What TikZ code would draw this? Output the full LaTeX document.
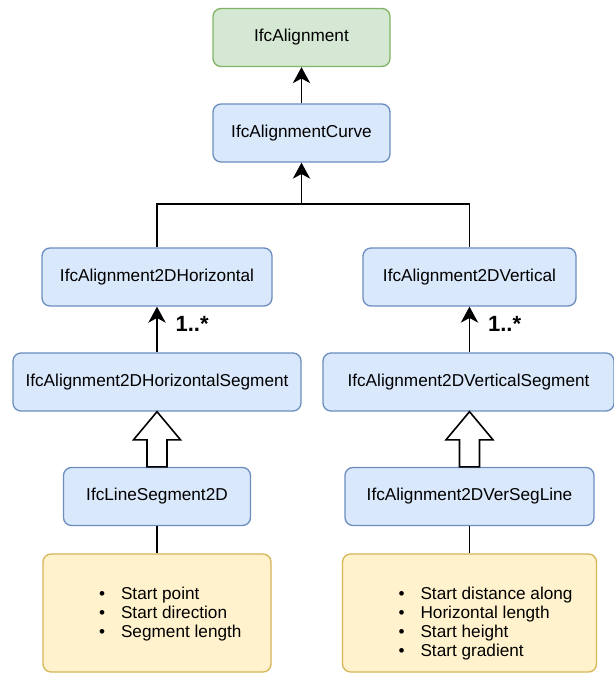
\documentclass[tikz,border=0pt]{standalone}
\usepackage{fontspec}
\setmainfont{Liberation Sans}
\usetikzlibrary{calc,arrows.meta}
\definecolor{blueFill}{HTML}{DAE8FC}
\definecolor{blueLine}{HTML}{6C8EBF}
\definecolor{greenFill}{HTML}{D5E8D4}
\definecolor{greenLine}{HTML}{82B366}
\definecolor{noteFill}{HTML}{FFF2CC}
\definecolor{noteLine}{HTML}{D6B656}
\def\blockarrow(#1)(#2){\draw[line width=1.2pt, fill=white] ($(#1)+(-10,0)$) -- ($(#1)+(-10,27)$) -- ($(#1)+(-23.5,27)$) -- (#2) -- ($(#1)+(23.5,27)$) -- ($(#1)+(10,27)$) -- ($(#1)+(10,0)$) -- cycle;}
\def\notelist#1#2{\parbox[c][88.5pt][t]{#1}{\vspace*{24.5pt}\hspace*{42pt}\begin{tabular}[t]{@{}l@{\hspace{12pt}}l@{}}#2\end{tabular}}}

\begin{document}
\begin{tikzpicture}[x=0.75pt, y=0.75pt,
		font=\fontsize{12.9}{14.25}\selectfont,
		cls/.style={draw=blueLine, fill=blueFill, rounded corners=6pt, line width=1pt, inner sep=0pt, minimum height=43.5pt},
		root/.style={cls, draw=greenLine, fill=greenFill},
		note/.style={cls, draw=noteLine, fill=noteFill, minimum height=88.5pt},
		link/.style={line width=1.2pt},
		arrow/.style={link, -{Stealth[length=12pt, width=13pt, inset=3.5pt]}},
		mult/.style={midway, right=10pt, yshift=4pt, font=\fontsize{16.5}{18}\selectfont\bfseries}]
		%%%%% START %%%%%
		
		\useasboundingbox (0, 0) rectangle (614, 675);
		
		\node[root, minimum width=132.75pt] (ifcal) at (301.5, 637.5) {IfcAlignment};
		\node[cls, minimum width=132.75pt] (curve) at (301.5, 542) {IfcAlignmentCurve};
		
		\node[cls, minimum width=172.5pt] (horiz) at (157, 398) {IfcAlignment2DHorizontal};
		\node[cls, minimum width=159.75pt] (vert) at (469.5, 398) {IfcAlignment2DVertical};
		
		\node[cls, minimum width=216pt] (hseg) at (157, 293) {IfcAlignment2DHorizontalSegment};
		\node[cls, minimum width=218.25pt] (vseg) at (468.5, 293) {IfcAlignment2DVerticalSegment};
		
		\node[cls, minimum width=140.25pt] (line2d) at (157, 178.5) {IfcLineSegment2D};
		\node[cls, minimum width=186.75pt] (verseg) at (469.5, 178.5) {IfcAlignment2DVerSegLine};
		
		\node[note, minimum width=171pt] (hnote) at (157, 62) {\notelist{171pt}{\textbullet & Start point\\ \textbullet & Start direction\\ \textbullet & Segment length}};
		\node[note, minimum width=190.5pt] (vnote) at (469.5, 62) {\notelist{190.5pt}{\textbullet & Start distance along\\ \textbullet & Horizontal length\\ \textbullet & Start height\\ \textbullet & Start gradient}};
		
		% inheritance
		\draw[arrow] (curve) -- (ifcal);
		\coordinate (bus) at (301.5, 471);
		\draw[link] (horiz.north) |- (bus) -| (vert.north);
		\draw[arrow] (bus) -- (curve);
		
		% segments
		\draw[arrow] (hseg) -- node[mult] {1..*} (horiz);
		\draw[arrow] (vseg.north -| vert.south) -- node[mult] {1..*} (vert);
		
		\blockarrow(line2d.north)(hseg.south);
		\blockarrow(verseg.north)(vseg.south -| verseg.north);
		
		% notes
		\draw[link] (line2d) -- (hnote);
		\draw[link] (verseg) -- (vnote);
		
		%%%%% END %%%%%
\end{tikzpicture}
\end{document}
